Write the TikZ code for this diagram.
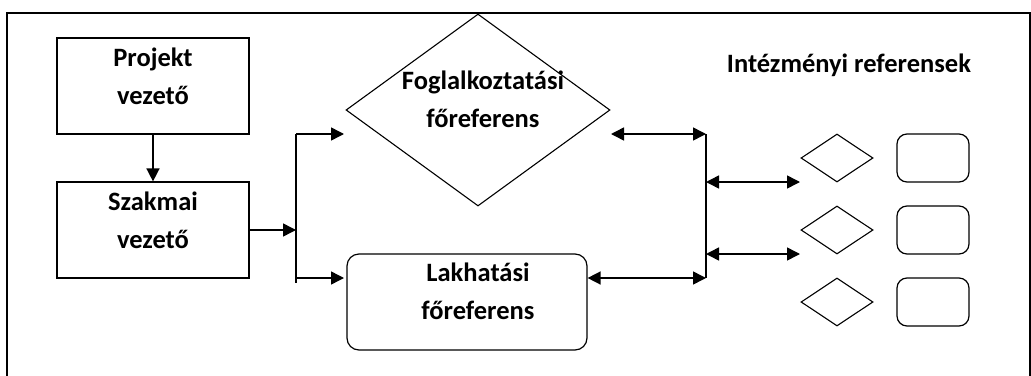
\documentclass[tikz,border=0pt]{standalone}
\usepackage{fontspec}
\setmainfont{Carlito}
\usetikzlibrary{shapes.geometric,arrows.meta}
\begin{document}
\begin{tikzpicture}[x=1pt,y=-1pt,
  lbl/.style={font=\fontsize{26.5}{38}\selectfont\bfseries, align=center, inner sep=0pt},
  sqbox/.style={draw, line width=1.2pt, minimum width=192pt, minimum height=96pt, inner sep=0pt},
  rbox/.style={draw, line width=1.2pt, rounded corners=12pt, inner sep=0pt},
  dia/.style={draw, diamond, line width=1.1pt, inner sep=0pt},
  arr/.style={line width=1.5pt, -{Triangle[length=13pt,width=13pt]}},
  darr/.style={line width=1.5pt, {Triangle[length=13pt,width=13pt]}-{Triangle[length=13pt,width=13pt]}},
  bus/.style={line width=1.5pt}]
\useasboundingbox (0,0) rectangle (1031,375);
\draw[line width=2pt] (7,376) -- (7,13) -- (1030,13) -- (1030,376);

% left boxes
\node[sqbox] (proj) at (153,86) {};
\node[lbl] (projt) at (153,76) {Projekt\\vezető};
\node[sqbox] (szak) at (153,230) {};
\node[lbl] (szakt) at (153,220) {Szakmai\\vezető};
\draw[arr] (proj.south) -- (szak.north);

% middle
\node[dia, minimum width=264pt, minimum height=192pt] (fog) at (478,110) {};
\node[lbl] (fogt) at (483,99) {Foglalkoztatási\\főreferens};
\node[rbox, minimum width=240pt, minimum height=96pt] (lak) at (467,302) {};
\node[lbl] (lakt) at (478,291) {Lakhatási\\főreferens};

% left bus
\coordinate (b1) at (296,134);
\coordinate (b2) at (296,283);
\coordinate (bm) at (296,230);
\coordinate (fin) at (344,134);
\coordinate (lin) at (344,278);
\draw[bus] (b1) -- (b2);
\draw[arr] (szak.east |- bm) -- (bm);
\draw[arr] (b1) -- (fin);
\draw[arr] (b1 |- lin) -- (lin);

% right bus
\coordinate (r1) at (706,134);
\coordinate (r2) at (706,278);
\coordinate (fout) at (611,134);
\draw[bus] (r1) -- (r2);
\draw[darr] (fout) -- (r1);
\draw[darr] (lak.east |- r2) -- (r2);

% institutional referents
\node[lbl] (inst) at (849,65) {Intézményi referensek};
\foreach \i/\y in {1/158,2/230,3/302}{
  \node[dia, minimum width=72pt, minimum height=48pt] (d\i) at (837,\y) {};
  \node[rbox, rounded corners=10pt, minimum width=72pt, minimum height=48pt] (s\i) at (933,\y) {};
}
\coordinate (a1) at (706,182);
\coordinate (a2) at (706,254);
\coordinate (e1) at (800,182);
\coordinate (e2) at (800,254);
\draw[darr] (a1) -- (e1);
\draw[darr] (a2) -- (e2);
\end{tikzpicture}
\end{document}
